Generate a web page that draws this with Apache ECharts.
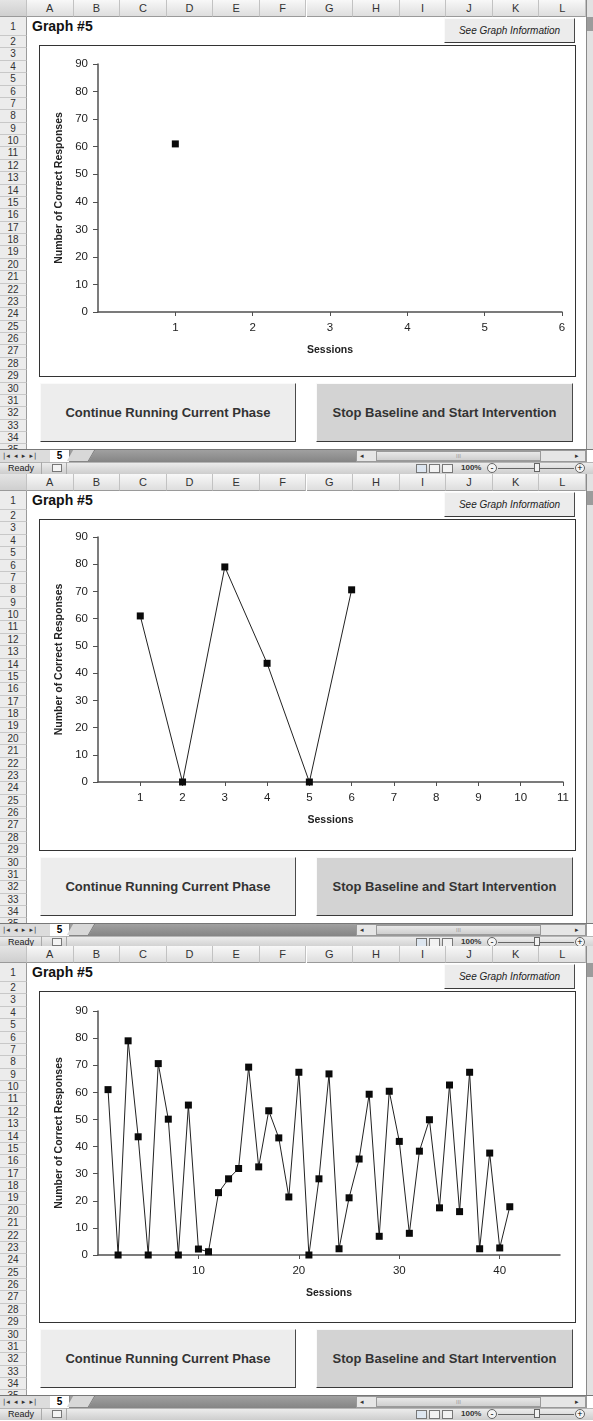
<!DOCTYPE html>
<html>
<head>
<meta charset="utf-8">
<script src="https://cdn.jsdelivr.net/npm/echarts@6.0.0/dist/echarts.min.js"></script>
<style>
body { margin: 0; width: 593px; height: 1421px; overflow: hidden; background: #fff; font-family: "Liberation Sans", Arial, sans-serif; }
.panel { position: absolute; left: 0; width: 593px; height: 474px; overflow: hidden; background: #fff; }
.abs { position: absolute; box-sizing: border-box; }
.colhdr { top: 0; height: 17px; background: linear-gradient(#f8f8f8, #dedede); border-right: 1px solid #c2c2c2; border-bottom: 1px solid #9a9a9a; font-size: 11px; color: #333; text-align: center; line-height: 16px; }
.rowhdr { left: 0; width: 27px; background: #ececec; border-right: 1px solid #9a9a9a; border-bottom: 1px solid #c8c8c8; font-size: 10px; color: #333; text-align: center; }
.btn { border: 1px solid; border-color: #fafafa #4a4a4a #3a3a3a #fafafa; display: flex; align-items: center; justify-content: center; color: #333; }
.box { left: 39px; top: 45px; width: 537px; height: 332px; border: 1px solid #333; background: #fff; }
.chart { position: absolute; left: 0; top: 0; width: 535px; height: 330px; }
</style>
</head>
<body>
<script>
// sessions 1..41, number of correct responses
var sessionScores = [61, 0, 79, 43.6, 0, 70.6, 50.1, 0, 55.3, 2.2, 1.2, 23, 28.1, 31.9, 69.3, 32.5, 53.2, 43.2, 21.4, 67.4,
	0, 28.1, 66.8, 2.3, 21.1, 35.4, 59.3, 6.9, 60.4, 41.9, 8, 38.3, 49.9, 17.4, 62.7, 16, 67.4, 2.3, 37.6, 2.6, 17.8];
var sessionsShown = [1, 6, 41];          // how many sessions each screenshot shows
var xAxisMax = [6, 11, 46];
var xTicks1 = [1, 2, 3, 4, 5, 6];
var xTicks2 = [1, 2, 3, 4, 5, 6, 7, 8, 9, 10, 11];
var xTicks3 = [10, 20, 30, 40];
var xTickSets = [xTicks1, xTicks2, xTicks3];
var yMin = 0, yMax = 90, yStep = 10;
var colLetters = ['A', 'B', 'C', 'D', 'E', 'F', 'G', 'H', 'I', 'J', 'K', 'L'];

// layout
var panelTops = [0, 474, 946];
var grids = [
	{ left: 58, right: 13, top: 18, bottom: 64 },
	{ left: 58, right: 12, top: 17, bottom: 68 },
	{ left: 58, right: 15, top: 19, bottom: 67 }
];

function div(parent, cls, css, text) {
	var d = document.createElement('div');
	d.className = cls;
	if (css) d.style.cssText = css;
	if (text !== undefined) d.textContent = text;
	parent.appendChild(d);
	return d;
}

function buildPanel(top) {
	var p = div(document.body, 'panel', 'top:' + top + 'px');
	// column headers
	div(p, 'abs colhdr', 'left:0;width:27px;background:linear-gradient(#e4e4e4,#cfcfcf)');
	var colW = (586 - 27) / 12;
	for (var i = 0; i < 12; i++) {
		div(p, 'abs colhdr', 'left:' + (27 + i * colW) + 'px;width:' + colW + 'px', colLetters[i]);
	}
	// row headers
	div(p, 'abs rowhdr', 'top:17px;height:19px;line-height:19px', '1');
	for (var r = 2; r <= 35; r++) {
		var y = 36 + (r - 2) * 12.375;
		div(p, 'abs rowhdr', 'top:' + y + 'px;height:12.4px;line-height:12px', String(r));
	}
	// right scroll bar strip
	div(p, 'abs', 'left:586px;top:0;width:7px;height:449px;background:#e2e2e2;border-left:1px solid #8a8a8a');
	div(p, 'abs', 'left:587px;top:17px;width:6px;height:14px;background:#9c9c9c');

	div(p, 'abs', 'left:32px;top:18px;font-size:14px;font-weight:bold;color:#111;line-height:16px', 'Graph #5');
	div(p, 'abs btn', 'left:444px;top:18px;width:131px;height:25px;background:#ececec;font-size:10px;font-style:italic;color:#222', 'See Graph Information');

	var box = div(p, 'abs box');
	var c = div(box, 'chart');

	div(p, 'abs btn', 'left:40px;top:383px;width:256px;height:59px;background:#ededed;font-size:13px;font-weight:bold', 'Continue Running Current Phase');
	div(p, 'abs btn', 'left:316px;top:383px;width:257px;height:59px;background:#d3d3d3;font-size:13px;font-weight:bold', 'Stop Baseline and Start Intervention');

	// sheet tab bar
	div(p, 'abs', 'left:0;top:449px;width:593px;height:13px;background:linear-gradient(#a0a0a0,#858585);border-top:1px solid #777');
	div(p, 'abs', 'left:0;top:450px;width:50px;height:12px;background:#dcdcdc;font-family:DejaVu Sans;font-size:7px;line-height:12px;color:#333;padding-left:3px;letter-spacing:1px', '|◂ ◂ ▸ ▸|');
	div(p, 'abs', 'left:50px;top:450px;width:20px;height:12px;background:#fff;font-size:10px;font-weight:bold;line-height:12px;text-align:center;border-right:1px solid #888', '5');
	div(p, 'abs', 'left:70px;top:450px;width:22px;height:11px;background:#d8d8d8;border-right:1px solid #777;transform:skewX(-30deg)');
	div(p, 'abs', 'left:356px;top:450px;width:230px;height:12px;background:#e6e6e6;border:1px solid #999');
	div(p, 'abs', 'left:360px;top:450px;width:10px;height:12px;font-family:DejaVu Sans;font-size:7px;line-height:12px;color:#333', '◂');
	div(p, 'abs', 'left:376px;top:451px;width:165px;height:10px;background:linear-gradient(#e8e8e8,#cfcfcf);border:1px solid #9a9a9a;font-size:6px;line-height:8px;text-align:center;color:#999', 'III');
	div(p, 'abs', 'left:575px;top:450px;width:10px;height:12px;font-family:DejaVu Sans;font-size:7px;line-height:12px;color:#333', '▸');
	div(p, 'abs', 'left:586px;top:450px;width:7px;height:12px;background:#fff;border-left:1px solid #999');

	// status bar
	div(p, 'abs', 'left:0;top:462px;width:593px;height:12px;background:linear-gradient(#ececec,#cdcdcd);border-top:1px solid #b5b5b5');
	div(p, 'abs', 'left:8px;top:462px;font-size:9px;line-height:12px;color:#222', 'Ready');
	div(p, 'abs', 'left:41px;top:462px;width:1px;height:12px;background:#aaa');
	div(p, 'abs', 'left:52px;top:464px;width:10px;height:8px;border:1px solid #777;background:#f4f4f4');
	div(p, 'abs', 'left:66px;top:462px;width:1px;height:12px;background:#aaa');
	for (var v = 0; v < 3; v++) {
		div(p, 'abs', 'left:' + (416 + v * 13) + 'px;top:464px;width:11px;height:9px;border:1px solid #777;background:' + (v === 0 ? '#dde6f0' : '#f2f2f2'));
	}
	div(p, 'abs', 'left:461px;top:462px;font-size:8px;font-weight:bold;line-height:12px;color:#333', '100%');
	div(p, 'abs', 'left:487px;top:463px;width:10px;height:10px;border:1px solid #666;border-radius:50%;background:#f4f4f4;font-size:9px;line-height:8px;text-align:center', '-');
	div(p, 'abs', 'left:498px;top:468px;width:76px;height:1px;background:#666');
	div(p, 'abs', 'left:534px;top:463px;width:6px;height:9px;border:1px solid #666;background:#f2f2f2');
	div(p, 'abs', 'left:575px;top:463px;width:10px;height:10px;border:1px solid #666;border-radius:50%;background:#f4f4f4;font-size:9px;line-height:9px;text-align:center', '+');
	return c;
}

var axisColor = '#505050';
var textColor = '#222';

for (var k = 0; k < 3; k++) {
	var dom = buildPanel(panelTops[k]);
	var chart = echarts.init(dom, null, { renderer: 'canvas' });
	var pts = [];
	for (var s = 0; s < sessionsShown[k]; s++) {
		pts.push([s + 1, sessionScores[s]]);
	}
	var option = {
		animation: false,
		grid: grids[k],
		xAxis: {
			type: 'value',
			min: 0,
			max: xAxisMax[k],
			interval: k === 2 ? 10 : 1,
			name: 'Sessions',
			nameLocation: 'middle',
			nameGap: 33,
			nameTextStyle: { fontWeight: 'bold', fontSize: 10.5, color: textColor, fontFamily: 'Liberation Sans' },
			axisLine: { lineStyle: { color: axisColor, width: 1.5 } },
			axisTick: { show: true, length: 4, customValues: xTickSets[k], lineStyle: { color: axisColor } },
			axisLabel: { customValues: xTickSets[k], color: textColor, fontSize: 11.5, margin: 10, fontFamily: 'Liberation Sans' },
			splitLine: { show: false }
		},
		yAxis: {
			type: 'value',
			min: yMin,
			max: yMax,
			interval: yStep,
			name: 'Number of Correct Responses',
			nameLocation: 'middle',
			nameGap: 28,
			nameTextStyle: { fontWeight: 'bold', fontSize: 10.5, color: textColor, fontFamily: 'Liberation Sans' },
			axisLine: { show: true, lineStyle: { color: axisColor, width: 1.5 } },
			axisTick: { show: true, inside: false, length: 5, lineStyle: { color: axisColor, width: 1 } },
			axisLabel: { color: textColor, fontSize: 11.5, margin: 10, fontFamily: 'Liberation Sans' },
			splitLine: { show: false }
		},
		series: [{
			type: 'line',
			data: pts,
			symbol: 'rect',
			symbolSize: 7,
			lineStyle: { color: '#222', width: 1 },
			itemStyle: { color: '#0a0a0a' }
		}]
	};
	chart.setOption(option);
}
</script>
</body>
</html>
